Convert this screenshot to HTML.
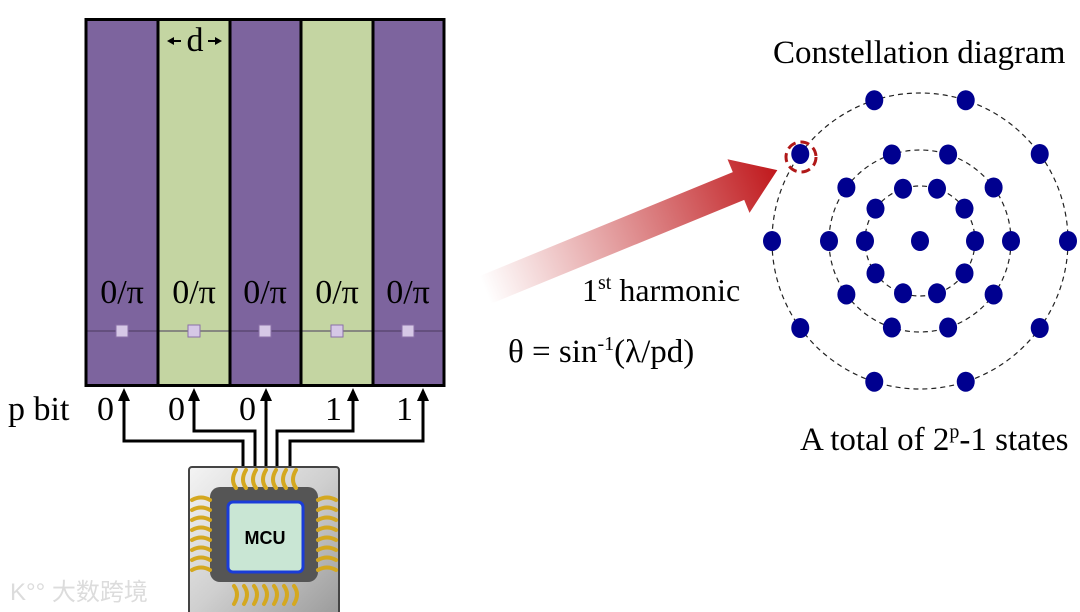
<!DOCTYPE html>
<html><head><meta charset="utf-8"><style>
html,body{margin:0;padding:0;background:#fff;width:1080px;height:612px;overflow:hidden}
svg{display:block}
text{font-family:"Liberation Serif",serif;fill:#000}
</style></head><body>
<svg id="s" width="1080" height="612" viewBox="0 0 1080 612" xmlns="http://www.w3.org/2000/svg">
<defs>
<linearGradient id="ag" x1="0" y1="0" x2="1" y2="0">
<stop offset="0" stop-color="#c0282a" stop-opacity="0"/>
<stop offset="1" stop-color="#c0181c" stop-opacity="1"/>
</linearGradient>
<linearGradient id="chipg" x1="0" y1="0" x2="1" y2="1">
<stop offset="0" stop-color="#f4f4f4"/><stop offset="0.5" stop-color="#cfcfcf"/><stop offset="1" stop-color="#9a9a9a"/>
</linearGradient>
</defs>
<rect x="86" y="18" width="72" height="368" fill="#7d649e"/>
<rect x="158" y="18" width="72" height="368" fill="#c4d5a2"/>
<rect x="230" y="18" width="71" height="368" fill="#7d649e"/>
<rect x="301" y="18" width="72" height="368" fill="#c4d5a2"/>
<rect x="373" y="18" width="71" height="368" fill="#7d649e"/>
<line x1="86" y1="331" x2="444" y2="331" stroke="#4a3a5e" stroke-width="1"/>
<g fill="none" stroke="#000" stroke-width="3">
<rect x="86" y="19.5" width="358" height="366"/>
<line x1="158" y1="18" x2="158" y2="386"/><line x1="230" y1="18" x2="230" y2="386"/>
<line x1="301" y1="18" x2="301" y2="386"/><line x1="373" y1="18" x2="373" y2="386"/>
</g>
<g fill="#d6c8e6" stroke="#8a70a8" stroke-width="1">
<rect x="116" y="325" width="12" height="12"/><rect x="188" y="325" width="12" height="12"/>
<rect x="259" y="325" width="12" height="12"/><rect x="331" y="325" width="12" height="12"/>
<rect x="402" y="325" width="12" height="12"/>
</g>
<g font-size="34" text-anchor="middle">
<text x="122" y="303">0/π</text><text x="194" y="303">0/π</text><text x="265" y="303">0/π</text>
<text x="337" y="303">0/π</text><text x="408" y="303">0/π</text>
</g>
<text x="195" y="51" font-size="34" text-anchor="middle">d</text>
<line x1="172" y1="41" x2="181" y2="41" stroke="#000" stroke-width="2"/><polygon points="167,41 174,37 174,45" fill="#000"/>
<line x1="208" y1="41" x2="216" y2="41" stroke="#000" stroke-width="2"/><polygon points="222,41 215,37 215,45" fill="#000"/>
<text x="8" y="420" font-size="34">p bit</text>
<g font-size="34"><text x="97" y="420">0</text><text x="168" y="420">0</text><text x="239" y="420">0</text><text x="325" y="420">1</text><text x="396" y="420">1</text></g>
<g fill="none" stroke="#000" stroke-width="3">
<polyline points="124,398 124,441 243,441 243,466"/>
<polyline points="194,398 194,431 255,431 255,466"/>
<polyline points="266,398 266,466"/>
<polyline points="353,398 353,431 277,431 277,466"/>
<polyline points="423,398 423,441 290,441 290,466"/>
</g>
<g fill="#000">
<polygon points="124,388 118,401 130,401"/><polygon points="194,388 188,401 200,401"/>
<polygon points="266,388 260,401 272,401"/><polygon points="353,388 347,401 359,401"/>
<polygon points="423,388 417,401 429,401"/>
</g>
<rect x="189" y="467" width="150" height="150" rx="3" fill="url(#chipg)" stroke="#444" stroke-width="2"/>
<rect x="210" y="487" width="108" height="95" rx="10" fill="#555"/>
<rect x="228" y="502" width="75" height="70" rx="5" fill="#c9e6d4" stroke="#1a3cd8" stroke-width="3"/>
<text x="265" y="544" font-weight="bold" font-size="18" text-anchor="middle" style="font-family:'Liberation Sans',sans-serif">MCU</text>
<g id="pins" fill="none" stroke="#d4a820" stroke-width="4" stroke-linecap="round"></g>
<text x="10" y="600" font-size="24" style="font-family:'Liberation Sans','Noto Sans CJK SC',sans-serif;fill:#dcdcdc">K°° 大数跨境</text>
<g transform="translate(485,290) rotate(-22.3)">
<polygon points="0,-15 274,-15 274,-29 316,0 274,29 274,15 0,15" fill="url(#ag)"/>
</g>
<text x="582" y="301" font-size="32">1<tspan dy="-12" font-size="20">st</tspan><tspan dy="12"> harmonic</tspan></text>
<text x="508" y="362" font-size="33">θ = sin<tspan dy="-12" font-size="20">-1</tspan><tspan dy="12">(λ/pd)</tspan></text>
<text x="773" y="63" font-size="33">Constellation diagram</text>
<text x="800" y="450" font-size="33">A total of 2<tspan dy="-12" font-size="20">p</tspan><tspan dy="12">-1 states</tspan></text>
<g fill="none" stroke="#222" stroke-width="1.2" stroke-dasharray="5,4">
<circle cx="920" cy="241" r="148"/><circle cx="920" cy="241" r="91"/><circle cx="920" cy="241" r="55"/>
</g>
<g id="dots" fill="#00008f"></g>
<circle cx="801" cy="157" r="15" fill="none" stroke="#b01818" stroke-width="3" stroke-dasharray="9,5"/>
</svg>
<script>
var ns="http://www.w3.org/2000/svg",d=document.getElementById("dots");
function e(x,y){var c=document.createElementNS(ns,"ellipse");c.setAttribute("cx",x);c.setAttribute("cy",y);c.setAttribute("rx",9);c.setAttribute("ry",10);d.appendChild(c);}
e(920,241);
[148,91,55].forEach(function(r){for(var i=0;i<10;i++){var a=i*36*Math.PI/180;e(920+r*Math.cos(a),241-r*Math.sin(a));}});
var p=document.getElementById("pins");
function path(s){var q=document.createElementNS(ns,"path");q.setAttribute("d",s);p.appendChild(q);}
for(var i=0;i<7;i++){var x=236+i*10;path("M"+x+",488 q-6,-8 0,-18");path("M"+(x-2)+",586 q6,8 0,18");}
for(var i=0;i<8;i++){var y=500+i*10;path("M210,"+y+" q-9,-5 -18,0");path("M318,"+y+" q9,-5 18,0");}
</script>
</body></html>
